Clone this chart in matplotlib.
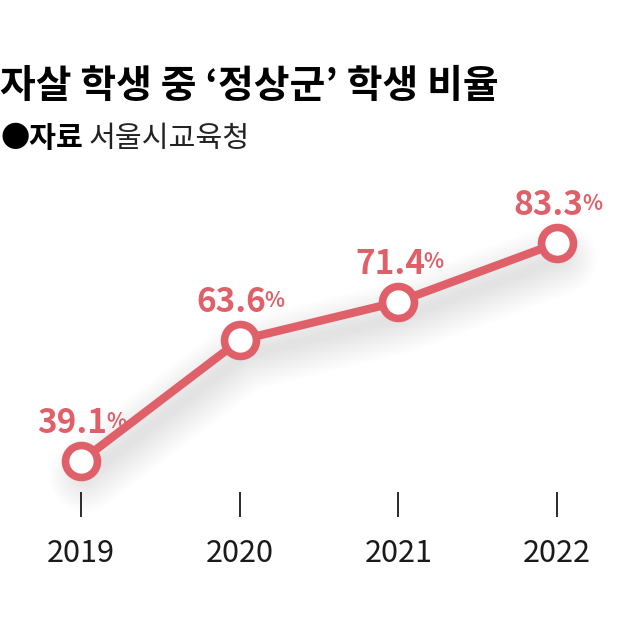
import matplotlib
matplotlib.use("Agg")
import matplotlib.pyplot as plt
import matplotlib.transforms as mtransforms

plt.rcParams['font.family'] = ['Noto Sans CJK KR', 'DejaVu Sans']

years = ['2019', '2020', '2021', '2022']
ratios = [39.1, 63.6, 71.4, 83.3]

TITLE = "자살 학생 중 ‘정상군’ 학생 비율"
SOURCE_LABEL = "●자료"
SOURCE = "서울시교육청"

RED = '#E0606A'

fig = plt.figure(figsize=(6.4, 6.2), dpi=100)
ax = fig.add_axes([0, 128 / 620, 1, 492 / 620])

xs = list(range(len(years)))

# soft blurred shadow under the line
for i in range(14):
    shadow = mtransforms.offset_copy(ax.transData, fig=fig, x=3, y=-11, units='points')
    ax.plot(xs, ratios, color='black', alpha=0.009, lw=6 + i * 3.5, clip_on=False,
            solid_capstyle='round', solid_joinstyle='round', transform=shadow, zorder=1)

ax.plot(xs, ratios, color=RED, lw=6, solid_joinstyle='round', zorder=3)
ax.plot(xs, ratios, 'o', ms=23, mfc='white', mec=RED, mew=5.5, zorder=4)

for x, v in zip(xs, ratios):
    t = ax.annotate(f"{v}", xy=(x, v), xytext=(-6, 20), textcoords='offset points',
                    ha='center', va='baseline', fontsize=24, fontweight='bold',
                    color=RED, zorder=5)
    ax.annotate('%', xy=(1, 0.9), xycoords=t, xytext=(-1, 0), textcoords='offset points',
                ha='left', va='top', fontsize=15, fontweight='bold', color=RED)

ax.set_xlim(-81 / 158.7, (640 - 81) / 158.7)
ax.set_ylim(39.1 - 31 / 4.93, 39.1 + 461 / 4.93)
ax.set_xticks(xs)
ax.set_xticklabels(years, fontsize=22, color='#1a1a1a')
ax.tick_params(axis='x', direction='out', length=18, width=1.3, color='#1a1a1a', pad=15)
ax.set_yticks([])
for s in ax.spines.values():
    s.set_visible(False)
ax.patch.set_alpha(0)

fig.text(0.0, 1 - 98 / 620, TITLE, fontsize=28, fontweight='bold', color='black',
         ha='left', va='baseline')
src = fig.text(0.0, 1 - 147 / 620, SOURCE_LABEL, fontsize=21, fontweight='bold',
               color='black', ha='left', va='baseline')
fig.canvas.draw()
bb = src.get_window_extent()
fig.text((bb.x1 + 6) / fig.bbox.width, 1 - 147 / 620, SOURCE, fontsize=21,
         color='#222222', ha='left', va='baseline')

fig.savefig('out.png', dpi=100)
